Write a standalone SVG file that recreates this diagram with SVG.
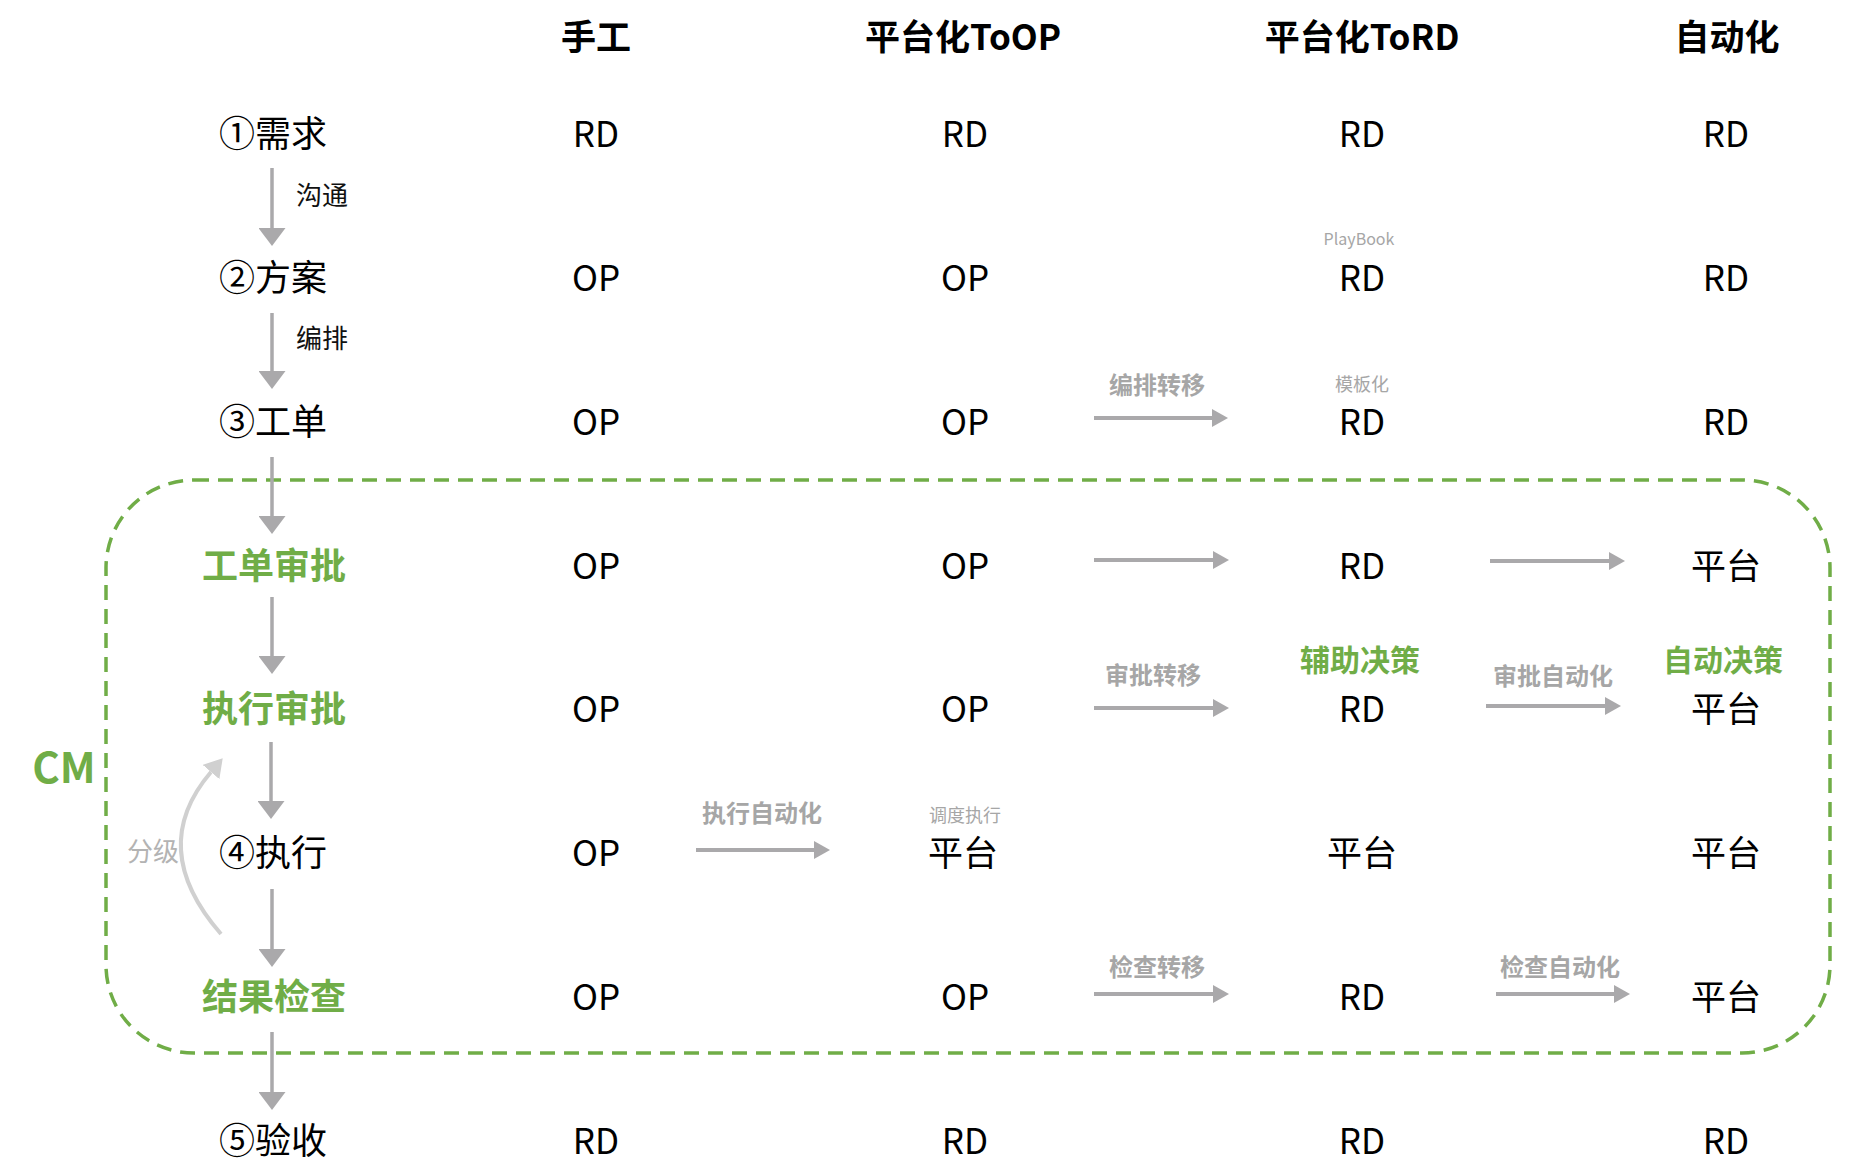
<svg xmlns="http://www.w3.org/2000/svg" width="1872" height="1174" viewBox="0 0 1872 1174">
<style>
text{font-family:"Noto Sans CJK SC","Noto Sans",sans-serif;text-anchor:middle}
.hd{font-size:35px;font-weight:700;fill:#000}
.rl{font-size:36px;fill:#000}
.gl{font-size:36px;font-weight:700;fill:#70ad47}
.d{font-size:35px;fill:#000}
.el{font-size:26px;fill:#111}
.al{font-size:24px;font-weight:700;fill:#a6a6a6}
.sm{font-size:18px;fill:#a6a6a6}
.dec{font-size:30px;font-weight:700;fill:#70ad47}
.ar{stroke:#aaa9ab;stroke-width:4;fill:none}
.av{stroke:#aaa9ab;stroke-width:3.5;fill:none}
</style>
<defs>
<marker id="hh" markerUnits="userSpaceOnUse" markerWidth="16" markerHeight="18" refX="0" refY="9" orient="auto" viewBox="0 0 16 18">
<path d="M0,0 L16,9 L0,18 z" fill="#aaa9ab"/>
</marker>
<marker id="hv" markerUnits="userSpaceOnUse" markerWidth="18" markerHeight="27" refX="0" refY="13.5" orient="auto" viewBox="0 0 18 27">
<path d="M0,0 L18,13.5 L0,27 z" fill="#aaa9ab"/>
</marker>
<marker id="hc" markerUnits="userSpaceOnUse" markerWidth="18" markerHeight="22" refX="0" refY="11" orient="auto" viewBox="0 0 18 22">
<path d="M0,0 L18,11 L0,22 z" fill="#d0d0d0"/>
</marker>
</defs>

<g id="cm-region">
<rect x="106" y="480" width="1724" height="573" rx="88" ry="88" fill="none" stroke="#70ad47" stroke-width="3.5" stroke-dasharray="15 9"/>
<text x="64" y="783" style="font-size:42px;font-weight:700;fill:#70ad47">CM</text>
</g>

<g id="headers">
<text class="hd" x="596" y="50">手工</text>
<text class="hd" x="963" y="50">平台化ToOP</text>
<text class="hd" x="1362" y="50">平台化ToRD</text>
<text class="hd" x="1727" y="50">自动化</text>
</g>

<g id="row-labels">
<g id="n-xuqiu"><text class="rl" x="273" y="147">①需求</text></g>
<g id="n-fangan"><text class="rl" x="273" y="291">②方案</text></g>
<g id="n-gongdan"><text class="rl" x="273" y="435">③工单</text></g>
<g id="n-gdsp"><text class="gl" x="274" y="579">工单审批</text></g>
<g id="n-zxsp"><text class="gl" x="274" y="722">执行审批</text></g>
<g id="n-zhixing"><text class="rl" x="273" y="866">④执行</text></g>
<g id="n-jgjc"><text class="gl" x="274" y="1010">结果检查</text></g>
<g id="n-yanshou"><text class="rl" x="273" y="1154">⑤验收</text></g>
</g>

<g id="cells">
<g id="c-r1"><text class="d" x="596" y="147">RD</text><text class="d" x="965" y="147">RD</text><text class="d" x="1362" y="147">RD</text><text class="d" x="1726" y="147">RD</text></g>
<g id="c-r2"><text class="d" x="596" y="291">OP</text><text class="d" x="965" y="291">OP</text><text class="d" x="1362" y="291">RD</text><text class="d" x="1726" y="291">RD</text>
<text x="1359" y="245" style="font-size:16px;fill:#a6a6a6">PlayBook</text></g>
<g id="c-r3"><text class="d" x="596" y="435">OP</text><text class="d" x="965" y="435">OP</text><text class="d" x="1362" y="435">RD</text><text class="d" x="1726" y="435">RD</text>
<text class="sm" x="1362" y="391">模板化</text></g>
<g id="c-r4"><text class="d" x="596" y="579">OP</text><text class="d" x="965" y="579">OP</text><text class="d" x="1362" y="579">RD</text><text class="d" x="1726" y="579">平台</text></g>
<g id="c-r5"><text class="d" x="596" y="722">OP</text><text class="d" x="965" y="722">OP</text><text class="d" x="1362" y="722">RD</text><text class="d" x="1726" y="722">平台</text>
<text class="dec" x="1360" y="671">辅助决策</text><text class="dec" x="1723" y="671">自动决策</text></g>
<g id="c-r6"><text class="d" x="596" y="866">OP</text><text class="d" x="963" y="866">平台</text><text class="d" x="1362" y="866">平台</text><text class="d" x="1726" y="866">平台</text>
<text class="sm" x="965" y="822">调度执行</text></g>
<g id="c-r7"><text class="d" x="596" y="1010">OP</text><text class="d" x="965" y="1010">OP</text><text class="d" x="1362" y="1010">RD</text><text class="d" x="1726" y="1010">平台</text></g>
<g id="c-r8"><text class="d" x="596" y="1154">RD</text><text class="d" x="965" y="1154">RD</text><text class="d" x="1362" y="1154">RD</text><text class="d" x="1726" y="1154">RD</text></g>
</g>

<g id="connectors">
<line class="av" x1="272" y1="168" x2="272" y2="228" marker-end="url(#hv)"/>
<line class="av" x1="272" y1="313" x2="272" y2="371" marker-end="url(#hv)"/>
<line class="av" x1="272" y1="457" x2="272" y2="516" marker-end="url(#hv)"/>
<line class="av" x1="272" y1="597" x2="272" y2="656" marker-end="url(#hv)"/>
<line class="av" x1="271" y1="742" x2="271" y2="801" marker-end="url(#hv)"/>
<line class="av" x1="272" y1="889" x2="272" y2="949" marker-end="url(#hv)"/>
<line class="av" x1="272" y1="1032" x2="272" y2="1092" marker-end="url(#hv)"/>
<text class="el" x="322" y="205">沟通</text>
<text class="el" x="322" y="348">编排</text>

<path d="M221,934 Q146,848 211,772" fill="none" stroke="#d0d0d0" stroke-width="4" marker-end="url(#hc)"/>
<text x="153" y="861" style="font-size:26px;fill:#b3b3b3">分级</text>

<line class="ar" x1="1094" y1="418" x2="1212" y2="418" marker-end="url(#hh)"/>
<text class="al" x="1157" y="394">编排转移</text>

<line class="ar" x1="1094" y1="560" x2="1213" y2="560" marker-end="url(#hh)"/>
<line class="ar" x1="1490" y1="561" x2="1609" y2="561" marker-end="url(#hh)"/>

<line class="ar" x1="1094" y1="708" x2="1213" y2="708" marker-end="url(#hh)"/>
<text class="al" x="1153" y="684">审批转移</text>
<line class="ar" x1="1486" y1="706" x2="1605" y2="706" marker-end="url(#hh)"/>
<text class="al" x="1553" y="685">审批自动化</text>

<line class="ar" x1="696" y1="850" x2="814" y2="850" marker-end="url(#hh)"/>
<text class="al" x="762" y="822">执行自动化</text>

<line class="ar" x1="1094" y1="994" x2="1213" y2="994" marker-end="url(#hh)"/>
<text class="al" x="1157" y="976">检查转移</text>
<line class="ar" x1="1496" y1="994" x2="1614" y2="994" marker-end="url(#hh)"/>
<text class="al" x="1560" y="976">检查自动化</text>
</g>
</svg>
